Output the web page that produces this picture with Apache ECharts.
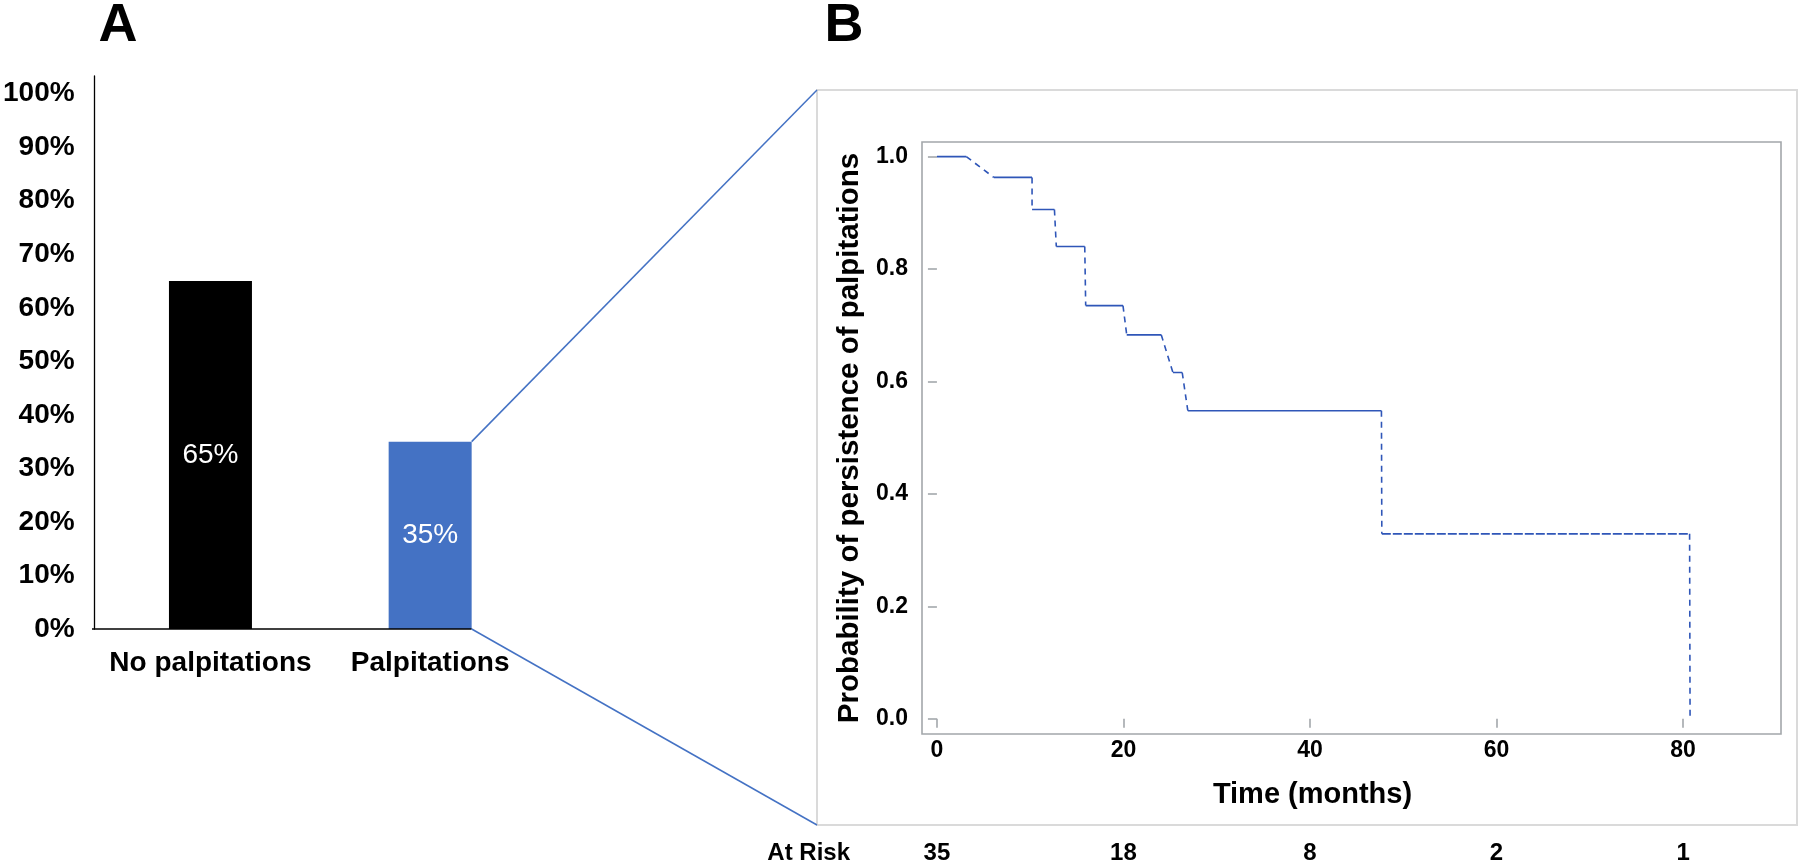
<!DOCTYPE html>
<html><head><meta charset="utf-8">
<script src="https://cdn.jsdelivr.net/npm/echarts@6/dist/echarts.min.js"></script>
<style>html,body{margin:0;padding:0;background:#fff}#c{width:1800px;height:865px}</style>
</head><body><div id="c"></div>
<script>
// ---- Panel A data ----
const barCategories = ['No palpitations', 'Palpitations'];
const barValues = [65, 35];
const barPercentTicks = [0, 10, 20, 30, 40, 50, 60, 70, 80, 90, 100];

// ---- Panel B data (Kaplan-Meier) ----
const kmStart = [0, 6.1, 10.2, 12.8, 15.95, 20.35, 25.3, 26.9, 47.7];
const kmEnd   = [3.15, 10.2, 12.6, 15.85, 19.95, 24.05, 26.3, 47.66, 80.7];
const kmSurv  = [1.000, 0.963, 0.906, 0.840, 0.735, 0.683, 0.616, 0.548, 0.329];
const kmFinalTime = 80.75;
const kmFinalSurv = 0.0;
const kmTimeTicks = [0, 20, 40, 60, 80];
const kmSurvTicks = [0, 0.2, 0.4, 0.6, 0.8, 1.0];
const atRisk = [35, 18, 8, 2, 1];

(function () {
const FONT = 'Liberation Sans, Arial, sans-serif';
const KM_BLUE = '#2f56b8';
const BAR_COLORS = ['#000000', '#4472C4'];
const GRAY = '#a3a7ab';
const BAR_W = 83;

const chart = echarts.init(document.getElementById('c'), null, {renderer: 'canvas'});

const kmSeries = [];
for (let i = 0; i < kmSurv.length; i++) {
  const last = i === kmSurv.length - 1;
  kmSeries.push({
    type: 'line', xAxisIndex: 1, yAxisIndex: 1, symbol: 'none', silent: true,
    data: [[kmStart[i], kmSurv[i]], [kmEnd[i], kmSurv[i]]],
    lineStyle: {color: KM_BLUE, width: 1.6, type: last ? [9, 2] : 'solid'}
  });
  const nextT = last ? kmFinalTime : kmStart[i + 1];
  const nextS = last ? kmFinalSurv : kmSurv[i + 1];
  kmSeries.push({
    type: 'line', xAxisIndex: 1, yAxisIndex: 1, symbol: 'none', silent: true,
    data: [[kmEnd[i], kmSurv[i]], [nextT, nextS]],
    lineStyle: {color: KM_BLUE, width: 1.6, type: [6, 5]}
  });
}

const option = {
  animation: false,
  backgroundColor: '#fff',
  grid: [
    {left: 98, top: 76, width: 442, height: 553, containLabel: false},
    {left: 922, top: 142, width: 859, height: 594, show: true, borderColor: GRAY, borderWidth: 1.6, backgroundColor: 'transparent'}
  ],
  xAxis: [
    {
      gridIndex: 0, type: 'category', data: barCategories, boundaryGap: true,
      axisLine: {show: false}, axisTick: {show: false},
      axisLabel: {interval: 0, color: '#000', fontSize: 28, fontWeight: 'bold', fontFamily: FONT, margin: 20}
    },
    {
      gridIndex: 1, type: 'value', min: -1.6, max: 90.5,
      axisLine: {show: false}, splitLine: {show: false},
      axisTick: {show: true, inside: false, length: 9, customValues: kmTimeTicks, lineStyle: {color: GRAY, width: 1.6}},
      axisLabel: {customValues: kmTimeTicks, color: '#000', fontSize: 23, fontWeight: 'bold', fontFamily: FONT, margin: 5},
      name: 'Time (months)', nameLocation: 'middle', nameGap: 46,
      nameTextStyle: {color: '#000', fontSize: 29, fontWeight: 'bold', fontFamily: FONT, padding: [0, 78, 0, 0]}
    },
    {
      gridIndex: 1, type: 'value', min: -1.6, max: 90.5, position: 'bottom', offset: 119,
      axisLine: {show: false}, axisTick: {show: false}, splitLine: {show: false},
      axisLabel: {customValues: kmTimeTicks, formatter: v => String(atRisk[kmTimeTicks.indexOf(v)]),
        color: '#000', fontSize: 24, fontWeight: 'bold', fontFamily: FONT, margin: 0, verticalAlign: 'middle'},
      name: 'At Risk', nameLocation: 'start', nameGap: 72,
      nameTextStyle: {color: '#000', fontSize: 24, fontWeight: 'bold', fontFamily: FONT, verticalAlign: 'middle'}
    }
  ],
  yAxis: [
    {
      gridIndex: 0, type: 'value', min: 0, max: 103.3, offset: 6,
      axisLine: {show: true, lineStyle: {color: '#000', width: 1.3}},
      axisTick: {show: false}, splitLine: {show: false},
      axisLabel: {customValues: barPercentTicks, formatter: v => v + '%', color: '#000', fontSize: 28, fontWeight: 'bold', fontFamily: FONT, margin: 20}
    },
    {
      gridIndex: 1, type: 'value', min: -0.027, max: 1.026,
      axisLine: {show: false}, splitLine: {show: false},
      axisTick: {show: true, inside: false, length: 9, customValues: kmSurvTicks, lineStyle: {color: GRAY, width: 1.6}},
      axisLabel: {customValues: kmSurvTicks, formatter: v => v.toFixed(1), color: '#000', fontSize: 23, fontWeight: 'bold', fontFamily: FONT, margin: 14},
      name: 'Probability of persistence of palpitations', nameLocation: 'middle', nameGap: 57,
      nameTextStyle: {color: '#000', fontSize: 29.5, fontWeight: 'bold', fontFamily: FONT}
    }
  ],
  series: [
    {
      type: 'bar', xAxisIndex: 0, yAxisIndex: 0, barWidth: BAR_W, silent: true,
      data: barValues.map((v, i) => ({value: v, itemStyle: {color: BAR_COLORS[i]}})),
      label: {show: true, position: 'inside', formatter: '{c}%', color: '#fff', fontSize: 28, fontFamily: FONT}
    }
  ].concat(kmSeries)
};
chart.setOption(option);

// decorations: x-axis baseline of panel A, zoom lines, panel B frame, panel letters
const basePt = chart.convertToPixel({xAxisIndex: 0, yAxisIndex: 0}, [barCategories[1], 0]);
const topPt = chart.convertToPixel({xAxisIndex: 0, yAxisIndex: 0}, [barCategories[1], barValues[1]]);
const yAxisX = 98 - 6;
const frame = {x: 817, y: 90, w: 980, h: 735};
chart.setOption({
  graphic: [
    {type: 'rect', silent: true, z: 0, shape: {x: frame.x, y: frame.y, width: frame.w, height: frame.h},
      style: {fill: 'none', stroke: '#dadada', lineWidth: 2}},
    {type: 'line', silent: true, z: 10, shape: {x1: yAxisX, y1: basePt[1], x2: basePt[0] + BAR_W / 2, y2: basePt[1]},
      style: {stroke: '#000', lineWidth: 1.3}},
    {type: 'line', silent: true, z: 10, shape: {x1: topPt[0] + BAR_W / 2, y1: topPt[1], x2: frame.x, y2: frame.y},
      style: {stroke: '#4472C4', lineWidth: 1.5}},
    {type: 'line', silent: true, z: 10, shape: {x1: basePt[0] + BAR_W / 2, y1: basePt[1], x2: frame.x, y2: frame.y + frame.h},
      style: {stroke: '#4472C4', lineWidth: 1.5}},
    {type: 'text', silent: true, z: 10, style: {text: 'A', x: 118, y: -1, textAlign: 'center', textVerticalAlign: 'top',
      font: 'bold 54px ' + FONT, fill: '#000'}},
    {type: 'text', silent: true, z: 10, style: {text: 'B', x: 844, y: -1, textAlign: 'center', textVerticalAlign: 'top',
      font: 'bold 54px ' + FONT, fill: '#000'}}
  ]
});
})();
</script></body></html>
